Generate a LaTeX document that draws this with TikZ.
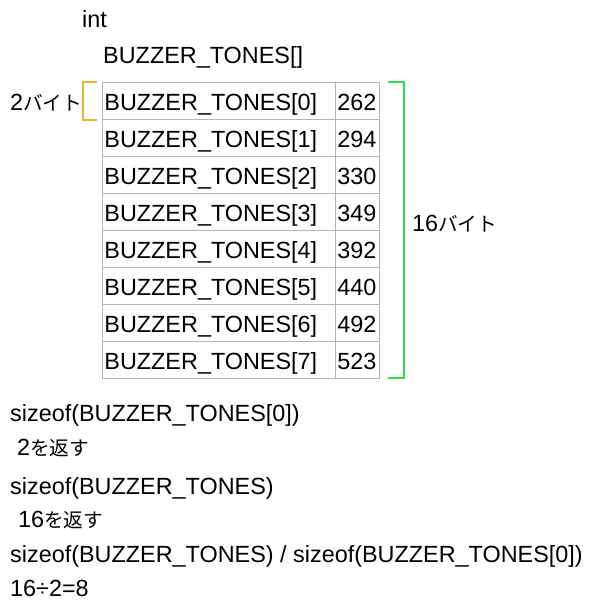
\documentclass[tikz,border=0pt]{standalone}
\usepackage{fontspec}
\setmainfont{Liberation Sans}
\newfontfamily\cjk[Scale=0.84]{Noto Sans CJK JP}
\definecolor{gridgray}{HTML}{B4B4B4}
\definecolor{brorange}{HTML}{F0B22A}
\definecolor{brgreen}{HTML}{30DD48}
\begin{document}
\begin{tikzpicture}[x=1pt,y=-1pt,
  every node/.style={font=\fontsize{23.4pt}{28pt}\selectfont, inner sep=0pt},
  txt/.style={anchor=base west},
  cellname/.style={draw=gridgray, line width=0.8pt, anchor=north west, minimum width=233pt, minimum height=37pt, text width=229pt, align=left, inner xsep=2pt, text height=18.7pt, text depth=0pt},
  cellval/.style={draw=gridgray, line width=0.8pt, anchor=north west, minimum width=44pt, minimum height=37pt, text width=40pt, align=left, inner xsep=2pt, text height=18.7pt, text depth=0pt},
  bracketO/.style={draw=brorange, line width=2.2pt},
  bracketG/.style={draw=brgreen, line width=2.2pt}]
\useasboundingbox (0,0) rectangle (600,608);
\node[txt] (int) at (82,27) {int};
\node[txt] (arr) at (103,63) {BUZZER\_TONES[]};
\foreach \i/\v in {0/262,1/294,2/330,3/349,4/392,5/440,6/492,7/523}{
  \node[cellname] (n\i) at (102,{82+37*\i}) {BUZZER\_TONES[\i]};
  \node[cellval] (v\i) at (335,{82+37*\i}) {\v};
}
\draw[bracketO] ([xshift=-5pt]n0.north west) -- ++(-14,0) |- ([xshift=-5pt]n0.south west);
\draw[bracketG] ([xshift=8pt]v0.north east) -- ++(16,0) |- ([xshift=8pt,yshift=1pt]v7.south east);
\node[txt] (two) at (10,110) {2{\cjk バイト}};
\node[txt] (sixteen) at (412,231) {16{\cjk バイト}};
\node[txt] (s1) at (10,421) {sizeof(BUZZER\_TONES[0])};
\node[txt] (r1) at (17,455) {2{\cjk を返す}};
\node[txt] (s2) at (10,494) {sizeof(BUZZER\_TONES)};
\node[txt] (r2) at (18,527) {16{\cjk を返す}};
\node[txt] (s3) at (10,562) {sizeof(BUZZER\_TONES) / sizeof(BUZZER\_TONES[0])};
\node[txt] (r3) at (10,596) {16÷2=8};
\end{tikzpicture}
\end{document}
